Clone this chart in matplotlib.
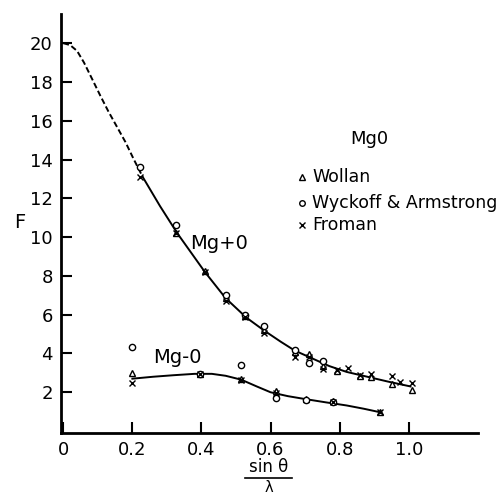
import matplotlib
matplotlib.use("Agg")
import matplotlib.pyplot as plt

# smooth curves
curve_plus_dash_x = [0.0, 0.02, 0.04, 0.06, 0.085, 0.107, 0.13, 0.155, 0.18, 0.203, 0.23]
curve_plus_dash_y = [20.0, 19.9, 19.6, 19.0, 18.1, 17.3, 16.5, 15.7, 14.9, 14.05, 13.1]
curve_plus_x = [0.23, 0.28, 0.33, 0.37, 0.41, 0.47, 0.53, 0.58, 0.63, 0.67, 0.72, 0.77, 0.82, 0.88, 0.94, 1.005]
curve_plus_y = [13.1, 11.6, 10.2, 9.2, 8.2, 6.85, 5.85, 5.2, 4.6, 4.15, 3.75, 3.35, 3.05, 2.8, 2.55, 2.3]
curve_minus_x = [0.2, 0.26, 0.32, 0.38, 0.43, 0.47, 0.515, 0.56, 0.6, 0.65, 0.7, 0.76, 0.82, 0.87, 0.917]
curve_minus_y = [2.7, 2.8, 2.88, 2.95, 2.95, 2.85, 2.65, 2.3, 2.0, 1.8, 1.65, 1.48, 1.32, 1.15, 0.97]

# Wollan (triangles)
wollan_x = [0.326, 0.41, 0.471, 0.526, 0.581, 0.671, 0.712, 0.751, 0.792, 0.859, 0.89, 0.951, 1.009,
            0.2, 0.396, 0.515, 0.616, 0.703, 0.78, 0.917]
wollan_y = [10.2, 8.25, 6.85, 5.95, 5.2, 4.1, 3.95, 3.35, 3.1, 2.85, 2.8, 2.45, 2.1,
            3.0, 2.95, 2.7, 2.05, 1.65, 1.55, 1.0]
# Wyckoff & Armstrong (circles)
wyckoff_x = [0.222, 0.326, 0.471, 0.526, 0.581, 0.671, 0.712, 0.751,
             0.2, 0.396, 0.515, 0.616, 0.703, 0.78]
wyckoff_y = [13.6, 10.6, 7.0, 6.0, 5.4, 4.2, 3.5, 3.6,
             4.35, 2.95, 3.4, 1.7, 1.6, 1.5]
# Froman (crosses)
froman_x = [0.222, 0.326, 0.41, 0.471, 0.526, 0.581, 0.671, 0.712, 0.751, 0.792, 0.823, 0.859, 0.89,
            0.951, 0.975, 1.009, 0.2, 0.396, 0.515, 0.616, 0.78, 0.917]
froman_y = [13.1, 10.2, 8.2, 6.7, 5.9, 5.05, 3.8, 3.8, 3.2, 3.15, 3.25, 2.9, 2.95,
            2.85, 2.55, 2.5, 2.5, 2.95, 2.65, 1.95, 1.5, 0.97]

xticks = [0, 0.2, 0.4, 0.6, 0.8, 1.0]
xticklabels = ["0", "0.2", "0.4", "0.6", "0.8", "1.0"]
yticks = [2, 4, 6, 8, 10, 12, 14, 16, 18, 20]

legend_labels = ["Wollan", "Wyckoff & Armstrong", "Froman"]
legend_markers = ['^', 'o', 'x']
legend_y = [13.1, 11.75, 10.64]

plt.rcParams['font.family'] = ['DejaVu Sans']

fig = plt.figure(figsize=(5.01, 4.94), dpi=100)
ax = fig.add_axes([0.1218, 0.1235, 0.832, 0.848])

ax.plot(curve_plus_dash_x, curve_plus_dash_y, color='black', lw=1.4, ls=(0, (3, 1.5)))
ax.plot(curve_plus_x, curve_plus_y, color='black', lw=1.4)
ax.plot(curve_minus_x, curve_minus_y, color='black', lw=1.4)

ax.plot(wollan_x, wollan_y, ls='none', marker='^', ms=4.5, mfc='white', mec='black', mew=1.0)
ax.plot(wyckoff_x, wyckoff_y, ls='none', marker='o', ms=4.5, mfc='white', mec='black', mew=1.0)
ax.plot(froman_x, froman_y, ls='none', marker='x', ms=4.0, color='black', mew=1.0)

ax.set_xlim(-0.0065, 1.2)
ax.set_ylim(-0.1, 21.5)
ax.spines['top'].set_visible(False)
ax.spines['right'].set_visible(False)
ax.spines['left'].set_linewidth(2)
ax.spines['bottom'].set_linewidth(2)
ax.set_xticks(xticks)
ax.set_xticklabels(xticklabels)
ax.set_yticks(yticks)
ax.tick_params(direction='in', length=8, width=1.5, labelsize=13, pad=6)

ax.text(0.367, 9.65, "Mg+0", fontsize=14, va='center')
ax.text(0.261, 3.78, "Mg-0", fontsize=14, va='center')
ax.text(0.83, 15.07, "Mg0", fontsize=13, va='center')
for lab, mk, yy in zip(legend_labels, legend_markers, legend_y):
    if mk == 'x':
        ax.plot([0.69], [yy], ls='none', marker=mk, ms=4, color='black')
    else:
        ax.plot([0.69], [yy], ls='none', marker=mk, ms=4, mfc='white', mec='black')
    ax.text(0.72, yy, lab, fontsize=12.5, va='center')

fig.text(20 / 501, 1 - 222 / 494, "F", fontsize=14, ha='center', va='center')
fig.text(269 / 501, 1 - 476 / 494, "sin θ", fontsize=12, ha='center', va='bottom')
fig.add_artist(plt.Line2D([245 / 501, 292 / 501], [1 - 478 / 494, 1 - 478 / 494],
                          color='black', lw=1.2))
fig.text(269 / 501, 1 - 479.5 / 494, "λ", fontsize=10.5, ha='center', va='top')

fig.savefig("out.png", dpi=100)
